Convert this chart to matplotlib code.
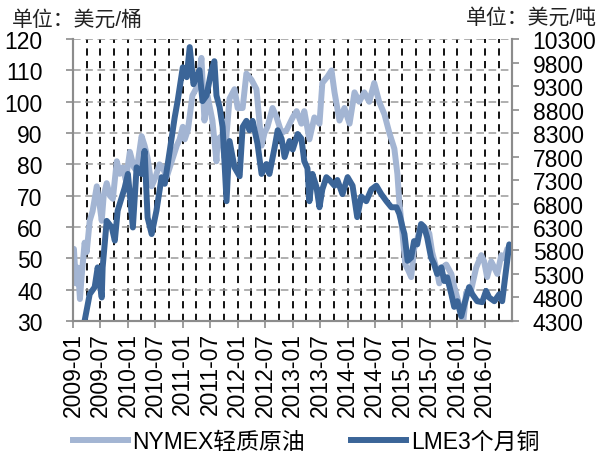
import matplotlib
matplotlib.use("Agg")
import matplotlib.pyplot as plt
import matplotlib.dates as mdates
import pandas as pd

plt.rcParams['font.family'] = ['Liberation Sans', 'Noto Sans CJK SC', 'DejaVu Sans']

oil_dates = [
    "2009-01-01", "2009-01-07", "2009-01-20", "2009-02-03", "2009-02-16", "2009-02-27",
    "2009-03-19", "2009-04-02", "2009-04-22", "2009-05-11", "2009-06-08", "2009-06-27",
    "2009-07-11", "2009-07-24", "2009-08-13", "2009-09-03", "2009-09-23", "2009-10-19",
    "2009-11-08", "2009-11-28", "2009-12-18", "2010-01-14", "2010-02-10", "2010-02-28",
    "2010-04-02", "2010-04-22", "2010-05-12", "2010-06-08", "2010-07-04", "2010-07-30",
    "2010-08-20", "2010-09-16", "2010-10-06", "2010-11-02", "2010-11-22", "2010-12-11",
    "2011-01-01", "2011-01-14", "2011-02-04", "2011-03-06", "2011-04-09", "2011-05-05",
    "2011-05-25", "2011-06-14", "2011-07-17", "2011-08-13", "2011-08-20", "2011-09-16",
    "2011-10-06", "2011-11-08", "2011-12-11", "2012-01-01", "2012-02-03", "2012-02-28",
    "2012-04-02", "2012-05-05", "2012-06-08", "2012-06-27", "2012-07-17", "2012-08-20",
    "2012-09-16", "2012-10-19", "2012-11-22", "2013-01-01", "2013-01-27", "2013-02-28",
    "2013-03-19", "2013-04-22", "2013-05-25", "2013-06-28", "2013-07-17", "2013-08-20",
    "2013-09-16", "2013-10-06", "2013-11-08", "2013-12-11", "2014-01-14", "2014-02-16",
    "2014-03-19", "2014-04-22", "2014-05-25", "2014-06-27", "2014-07-30", "2014-09-03",
    "2014-10-06", "2014-11-08", "2014-11-28", "2014-12-11", "2015-01-01", "2015-01-20",
    "2015-02-10", "2015-02-28", "2015-03-19", "2015-04-09", "2015-05-05", "2015-05-25",
    "2015-06-28", "2015-07-17", "2015-08-13", "2015-09-03", "2015-09-23", "2015-10-19",
    "2015-11-22", "2015-12-11", "2016-01-14", "2016-02-08", "2016-02-28", "2016-04-02",
    "2016-05-05", "2016-06-08", "2016-06-27", "2016-07-17", "2016-08-13", "2016-09-03",
    "2016-09-23", "2016-10-19", "2016-11-08", "2016-11-28", "2016-12-24",
]
oil_values = [
    50, 53, 42, 47, 37, 44,
    55, 52, 62, 65, 73, 67,
    62, 70, 74, 70, 69, 81,
    77, 79, 75, 84, 79, 78,
    89, 86, 82, 73, 76, 80,
    79, 76, 79, 83, 86, 88,
    92, 88, 91, 102, 105, 114,
    94, 102, 94, 81, 88, 89,
    82, 101, 104, 98, 98, 109,
    107, 104, 86, 90, 92, 98,
    95, 90, 91, 95, 97, 93,
    97, 88, 95, 93, 106, 108,
    110, 103, 94, 98, 93, 103,
    100, 103, 100, 106, 100, 96,
    90, 85, 77, 68, 58, 48,
    46, 44, 53, 56, 61, 60,
    58, 52, 47, 42, 47, 48,
    45, 41, 35, 29, 39, 40,
    47, 51, 49, 44, 49, 47,
    45, 51, 50, 53, 54,
]

cu_dates = [
    "2009-01-01", "2009-02-03", "2009-02-27", "2009-03-19", "2009-04-22", "2009-05-25",
    "2009-06-14", "2009-07-11", "2009-07-17", "2009-08-13", "2009-09-16", "2009-10-06",
    "2009-10-25", "2009-12-11", "2010-01-01", "2010-02-03", "2010-02-28", "2010-04-02",
    "2010-04-22", "2010-05-12", "2010-06-08", "2010-07-10", "2010-08-13", "2010-09-03",
    "2010-10-06", "2010-11-08", "2010-11-28", "2011-01-01", "2011-01-27", "2011-02-16",
    "2011-03-13", "2011-04-02", "2011-04-22", "2011-05-12", "2011-06-08", "2011-07-11",
    "2011-07-30", "2011-08-13", "2011-09-03", "2011-09-23", "2011-10-19", "2011-11-08",
    "2011-12-11", "2012-01-14", "2012-02-03", "2012-02-28", "2012-03-19", "2012-04-09",
    "2012-05-12", "2012-06-08", "2012-07-10", "2012-07-30", "2012-09-03", "2012-09-23",
    "2012-10-19", "2012-11-08", "2012-12-11", "2013-01-01", "2013-02-03", "2013-02-28",
    "2013-03-19", "2013-04-09", "2013-04-22", "2013-05-12", "2013-06-08", "2013-06-28",
    "2013-07-17", "2013-08-13", "2013-09-03", "2013-10-06", "2013-10-25", "2013-11-28",
    "2014-01-01", "2014-02-03", "2014-03-06", "2014-04-02", "2014-05-05", "2014-06-08",
    "2014-07-11", "2014-08-13", "2014-09-16", "2014-10-19", "2014-11-22", "2014-12-11",
    "2015-01-01", "2015-01-14", "2015-02-04", "2015-02-28", "2015-03-19", "2015-04-09",
    "2015-05-05", "2015-05-25", "2015-06-14", "2015-07-10", "2015-07-30", "2015-08-20",
    "2015-09-16", "2015-10-06", "2015-10-25", "2015-11-22", "2015-12-11", "2016-01-01",
    "2016-01-27", "2016-02-16", "2016-03-19", "2016-04-09", "2016-05-12", "2016-06-14",
    "2016-07-10", "2016-07-30", "2016-09-03", "2016-10-06", "2016-10-25", "2016-11-22",
    "2016-12-11", "2016-12-24",
]
cu_values = [
    3100, 3500, 3900, 4300, 4870, 5020,
    5440, 4800, 5440, 6430, 6290, 6010,
    6650, 7140, 7430, 6290, 7570, 7430,
    7920, 6500, 6150, 6650, 7360, 7220,
    7920, 8630, 8990, 9700, 9490, 10130,
    9340, 9500, 9640, 8980, 9100, 9640,
    9830, 9100, 8850, 8430, 6850, 8130,
    7570, 7380, 8430, 8560, 8360, 8560,
    8070, 7430, 7640, 7430, 8000, 8360,
    8180, 7790, 8130, 7950, 8280, 8180,
    7700, 7550, 6850, 7430, 7150, 6720,
    7100, 7360, 7300, 7180, 7300, 7000,
    7360, 7180, 6510, 6950, 6850, 7100,
    7180, 7000, 6850, 6720, 6720, 6580,
    6300, 6150, 5580, 5650, 6000, 5930,
    6360, 6300, 6080, 5650, 5510, 5300,
    5440, 5150, 5230, 4870, 4600, 4720,
    4400, 4650, 5020, 4870, 4720, 4700,
    4940, 4800, 4720, 4870, 4720, 5440,
    5930, 5780,
]

oil_label = "NYMEX轻质原油"
cu_label = "LME3个月铜"
left_ticks = [30, 40, 50, 60, 70, 80, 90, 100, 110, 120]
right_ticks = [4300, 4800, 5300, 5800, 6300, 6800, 7300, 7800, 8300, 8800, 9300, 9800, 10300]

oil_color = "#A3B5D3"
cu_color = "#3B6598"
axis_gray = "#8C8C8C"
fs = 16.5

fig = plt.figure(figsize=(6.0, 4.56), dpi=100)
ax = fig.add_axes([0.1217, 0.294, 0.853 - 0.1217, 0.912 - 0.294])
ax2 = ax.twinx()

od = pd.to_datetime(oil_dates)
cd = pd.to_datetime(cu_dates)
l1, = ax.plot(od, oil_values, color=oil_color, lw=4.3, solid_joinstyle='round', label=oil_label)
l2, = ax2.plot(cd, cu_values, color=cu_color, lw=4.3, solid_joinstyle='round', label=cu_label)

ax.set_xlim(pd.Timestamp("2009-01-01"), pd.Timestamp("2016-12-28"))
ax.set_ylim(30, 120)
ax2.set_ylim(4300, 10300)
ax.set_yticks(left_ticks)
ax2.set_yticks(right_ticks)

ax.xaxis.set_major_locator(mdates.MonthLocator(bymonth=[1, 7]))
ax.xaxis.set_minor_locator(mdates.MonthLocator(bymonth=[4, 10]))
ax.xaxis.set_major_formatter(mdates.DateFormatter('%Y-%m'))

for lab in ax.get_xticklabels():
    lab.set_rotation(90)

ax.tick_params(axis='x', which='major', length=5, width=1.2, color=axis_gray,
               labelsize=fs, pad=3)
ax.tick_params(axis='x', which='minor', length=0)
ax.tick_params(axis='y', length=5, width=1.2, color=axis_gray, labelsize=fs, pad=17)
ax2.tick_params(axis='y', length=5, width=1.2, color=axis_gray, labelsize=fs, pad=10)

ax.grid(True, axis='y', which='major', color='#9A9A9A', linestyle=(0, (5, 3)), lw=1.1)
ax.grid(True, axis='x', which='both', color='black', linestyle=(0, (4, 3)), lw=1.3)
ax.set_axisbelow(True)

for a in (ax, ax2):
    a.spines['top'].set_visible(False)
    for s in ('left', 'right', 'bottom'):
        a.spines[s].set_color(axis_gray)
        a.spines[s].set_linewidth(1.5)

fig.text(0.02, 0.956, "单位：美元/桶", fontsize=15, va='center', ha='left', color='#222222')
fig.text(0.995, 0.96, "单位：美元/吨", fontsize=15, va='center', ha='right', color='#222222')

fig.legend(handles=[l1, l2], loc='center', bbox_to_anchor=(0.51, 0.03), ncol=2,
           frameon=False, fontsize=fs, handlelength=2.4, columnspacing=2.0,
           handletextpad=0.2)

fig.savefig("out.png", dpi=100)
